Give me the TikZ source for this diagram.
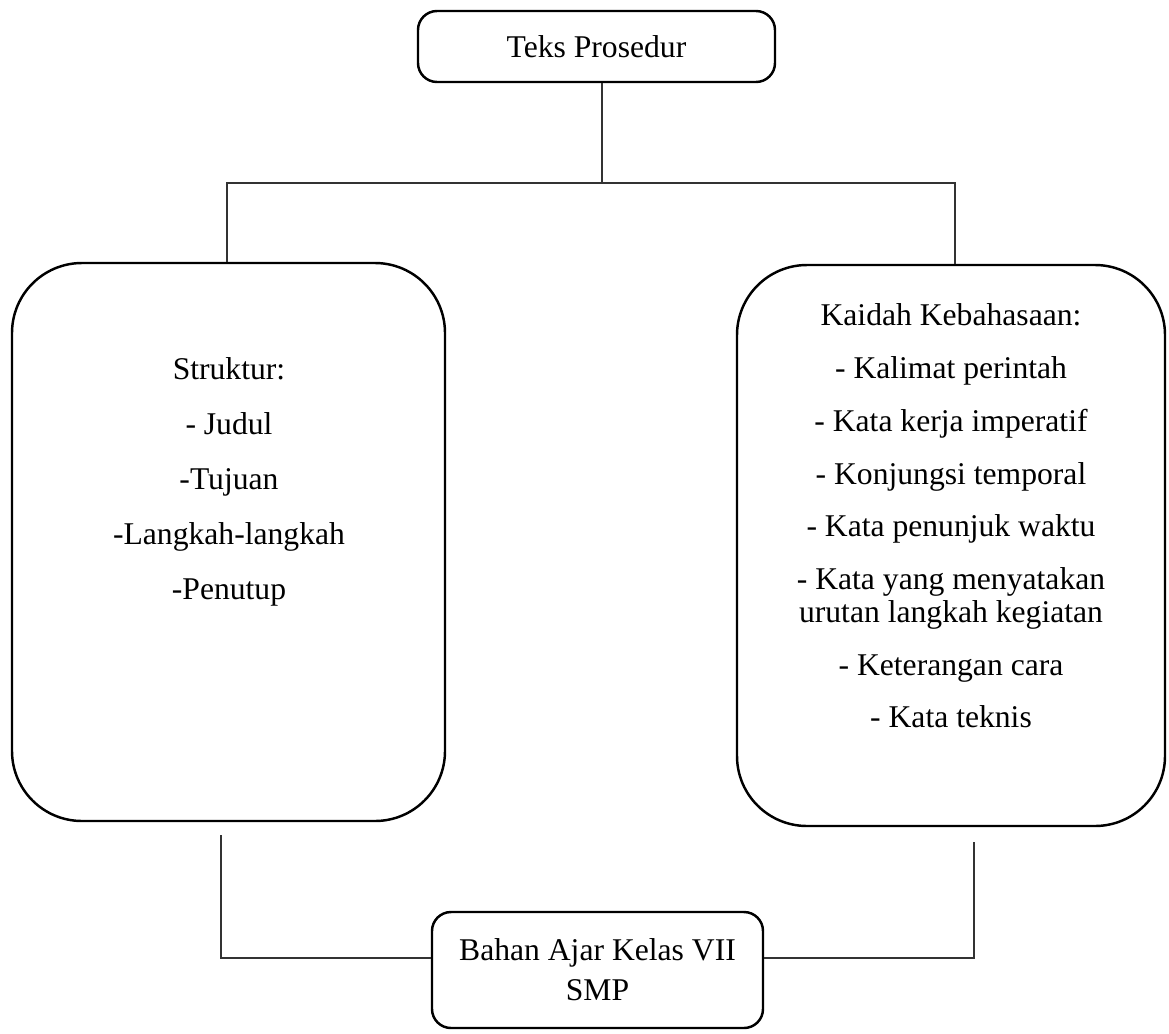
\documentclass[tikz,border=0pt]{standalone}
\usepackage{fontspec}
\setmainfont{Liberation Serif}
\usetikzlibrary{positioning}

\begin{document}
\begin{tikzpicture}[
      Box/.style={
        draw, line width=1.4pt, rounded corners=0.38cm, align=center,
        font=\fontsize{18}{18.7}\selectfont,
      },
      BigBox/.style={
        draw, line width=1.4pt, rounded corners=1.4cm,
      },
      Items/.style={
        align=center, inner sep=0pt,
        font=\fontsize{18}{18.7}\selectfont,
      },
      Link/.style={
        line width=0.85pt, black!80,
      },
      ]
      \useasboundingbox (0, 0) rectangle (23.38, -20.66);

      \node[Box, minimum width=7.14cm, minimum height=1.42cm] (teks) at (11.93, -0.93) {Teks Prosedur};

      \node[BigBox, minimum width=8.66cm, minimum height=11.16cm] (struktur) at (4.57, -10.84) {};
      \node[BigBox, minimum width=8.56cm, minimum height=11.22cm] (kaidah) at (19.02, -10.91) {};

      \node[Items] (strukturisi) at (4.58, -9.64) {Struktur:\\[12.5pt]- Judul\\[12.5pt]-Tujuan\\[12.5pt]-Langkah-langkah\\[12.5pt]-Penutup};
      \node[Items] (kaidahisi) at (19.02, -10.32) {Kaidah Kebahasaan:\\[11.3pt]- Kalimat perintah\\[11.3pt]- Kata kerja imperatif\\[11.3pt]- Konjungsi temporal\\[11.3pt]- Kata penunjuk waktu\\[11.3pt]- Kata yang menyatakan\\urutan langkah kegiatan\\[11.3pt]- Keterangan cara\\[11.3pt]- Kata teknis};

      \node[Box, minimum width=6.62cm, minimum height=2.32cm] (bahan) at (11.95, -19.40) {Bahan Ajar Kelas VII\\[4pt]SMP};

      \coordinate (split) at (12.04, -3.66);
      \coordinate (lefttail) at (4.42, -16.70);
      \coordinate (righttail) at (19.48, -16.84);

      \draw[Link] (split |- teks.south) -- (split);
      \draw[Link] ([xshift=-0.03cm]struktur.north) |- (split) -| ([xshift=0.08cm]kaidah.north);

      \draw[Link] (lefttail) |- ([yshift=0.24cm]bahan.west);
      \draw[Link] (righttail) |- ([yshift=0.24cm]bahan.east);
    \end{tikzpicture}
\end{document}
